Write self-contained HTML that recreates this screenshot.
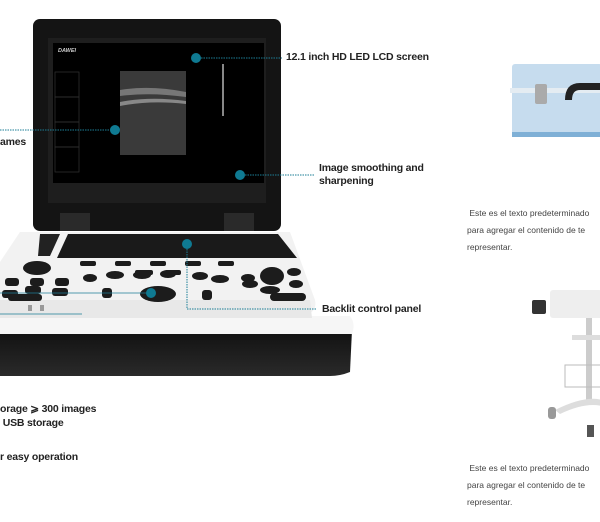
<!DOCTYPE html>
<html><head><meta charset="utf-8"><style>
body{margin:0;width:600px;height:522px;background:#fff;overflow:hidden;position:relative;font-family:"Liberation Sans",sans-serif}
.l{position:absolute;font-weight:bold;font-size:10.5px;color:#222;white-space:nowrap;letter-spacing:-0.2px}
.t{position:absolute;font-size:8.5px;color:#444;white-space:nowrap;left:467px}
</style></head><body>
<svg width="600" height="522" style="position:absolute;left:0;top:0">
<defs><linearGradient id="g" x1="0" y1="0" x2="0" y2="1"><stop offset="0" stop-color="#111"/><stop offset="1" stop-color="#2a2a2a"/></linearGradient></defs>
<!-- base -->
<path d="M0 330 L352 330 L350 372 Q340 376 330 376 L0 376 Z" fill="url(#g)"/>
<path d="M0 316 L350 316 Q356 324 352 334 L0 334 Z" fill="#f6f6f6"/>
<path d="M20 232 L290 232 L315 300 Q318 314 300 316 L0 316 L0 262 Z" fill="#f2f2f2"/>
<path d="M0 300 L310 300 L312 318 L0 318 Z" fill="#e8e8e8"/>
<path d="M68 234 L278 234 L297 258 L57 258 Z" fill="#1a1a1a"/>
<path d="M40 234 L60 234 L50 256 L38 256 Z" fill="#222"/>
<g fill="#1c1c1c">
<ellipse cx="37" cy="268" rx="14" ry="7"/>
<rect x="80" y="261" width="16" height="5" rx="2"/><rect x="115" y="261" width="16" height="5" rx="2"/><rect x="150" y="261" width="16" height="5" rx="2"/><rect x="185" y="261" width="16" height="5" rx="2"/><rect x="218" y="261" width="16" height="5" rx="2"/>
<rect x="5" y="278" width="14" height="8" rx="3"/><rect x="30" y="278" width="14" height="8" rx="3"/><rect x="55" y="278" width="14" height="8" rx="3"/>
<rect x="2" y="290" width="16" height="8" rx="3"/><rect x="25" y="286" width="16" height="8" rx="3"/><rect x="52" y="288" width="16" height="8" rx="3"/>
<rect x="8" y="294" width="34" height="7" rx="3"/>
<ellipse cx="90" cy="278" rx="7" ry="4"/><ellipse cx="115" cy="275" rx="9" ry="4"/><ellipse cx="142" cy="275" rx="9" ry="4"/><ellipse cx="168" cy="274" rx="8" ry="4"/>
<rect x="135" y="270" width="18" height="5" rx="2"/><rect x="165" y="270" width="16" height="5" rx="2"/>
<ellipse cx="200" cy="276" rx="8" ry="4"/><ellipse cx="220" cy="279" rx="9" ry="4"/><ellipse cx="248" cy="278" rx="7" ry="4"/>
<rect x="102" y="288" width="10" height="10" rx="3"/><rect x="202" y="290" width="10" height="10" rx="3"/>
<ellipse cx="158" cy="294" rx="18" ry="8"/>
<ellipse cx="272" cy="276" rx="12" ry="9"/><ellipse cx="294" cy="272" rx="7" ry="4"/><ellipse cx="296" cy="284" rx="7" ry="4"/><ellipse cx="250" cy="284" rx="8" ry="4"/><ellipse cx="270" cy="290" rx="10" ry="4"/>
<rect x="270" y="293" width="36" height="8" rx="4"/>
</g>
<rect x="28" y="305" width="4" height="6" fill="#999"/><rect x="40" y="305" width="4" height="6" fill="#999"/>
<!-- lid -->
<rect x="33" y="19" width="248" height="212" rx="7" fill="#141414"/>
<rect x="48" y="38" width="218" height="165" fill="#1e1e1e"/>
<rect x="53" y="43" width="211" height="140" fill="#000"/>
<rect x="120" y="71" width="66" height="84" fill="#3a3a3a"/>
<path d="M120 90 Q150 85 186 92 L186 97 Q150 92 120 96Z" fill="#777"/>
<path d="M120 102 Q150 96 186 101 L186 104 Q150 100 120 106Z" fill="#888"/>
<g fill="none" stroke="#333" stroke-width="0.7"><rect x="55" y="72" width="24" height="25"/><rect x="55" y="97" width="24" height="25"/><rect x="55" y="122" width="24" height="25"/><rect x="55" y="147" width="24" height="25"/></g>
<rect x="222" y="64" width="2" height="52" fill="#888"/>
<text x="58" y="52" font-size="5.5" fill="#ccc" font-style="italic" font-weight="bold" font-family="Liberation Sans">DAWEI</text>
<rect x="60" y="213" width="30" height="18" fill="#2a2a2a"/><rect x="224" y="213" width="30" height="18" fill="#2a2a2a"/>
<g stroke="#1b7e96" stroke-width="1" stroke-dasharray="1.5,1" fill="none">
<line x1="196" y1="58" x2="282" y2="58"/>
<line x1="0" y1="130" x2="114" y2="130"/>
<line x1="240" y1="175" x2="315" y2="175"/>
<polyline points="187,244 187,309 317,309"/>
</g>
<g stroke="#1b7e96" stroke-width="0.8" fill="none"><line x1="0" y1="293" x2="150" y2="293"/><line x1="0" y1="314" x2="82" y2="314"/></g>
<g fill="#0f7a92"><circle cx="196" cy="58" r="5"/><circle cx="115" cy="130" r="5"/><circle cx="240" cy="175" r="5"/><circle cx="187" cy="244" r="5"/><circle cx="151" cy="293" r="5"/></g>
<!-- suitcase -->
<rect x="512" y="64" width="90" height="73" rx="3" fill="#c6dcee"/>
<rect x="510" y="88" width="92" height="5" fill="#e4ecf2"/>
<rect x="512" y="132" width="90" height="5" fill="#7fb0d6"/>
<rect x="535" y="84" width="12" height="20" rx="2" fill="#aaa"/>
<path d="M565 100 Q565 83 580 83 L602 83 L602 90 L580 90 Q572 90 572 100Z" fill="#222"/>
<!-- cart -->
<rect x="550" y="290" width="52" height="28" rx="3" fill="#eee"/>
<rect x="532" y="300" width="14" height="14" rx="2" fill="#333"/>
<rect x="586" y="318" width="6" height="85" fill="#ccc"/>
<rect x="572" y="335" width="30" height="5" fill="#ddd"/>
<rect x="565" y="365" width="37" height="22" fill="none" stroke="#bbb"/>
<path d="M555 410 Q585 395 602 400 L602 406 Q585 402 560 414Z" fill="#ddd"/>
<rect x="548" y="407" width="8" height="12" rx="3" fill="#999"/><rect x="587" y="425" width="7" height="12" fill="#555"/>
</svg>
<div class="l" style="left:286px;top:51px">12.1 inch HD LED LCD screen</div>
<div class="l" style="left:0;top:136px">ames</div>
<div class="l" style="left:319px;top:162px;line-height:13px">Image smoothing and<br>sharpening</div>
<div class="l" style="left:322px;top:303px">Backlit control panel</div>
<div class="l" style="left:0;top:402px;line-height:14px">orage ⩾ 300 images<br>&nbsp;USB storage</div>
<div class="l" style="left:0;top:451px">r easy operation</div>
<div class="t" style="top:208px">&nbsp;Este es el texto predeterminado</div>
<div class="t" style="top:225px">para agregar el contenido de te</div>
<div class="t" style="top:242px">representar.</div>
<div class="t" style="top:463px">&nbsp;Este es el texto predeterminado</div>
<div class="t" style="top:480px">para agregar el contenido de te</div>
<div class="t" style="top:497px">representar.</div>
</body></html>
